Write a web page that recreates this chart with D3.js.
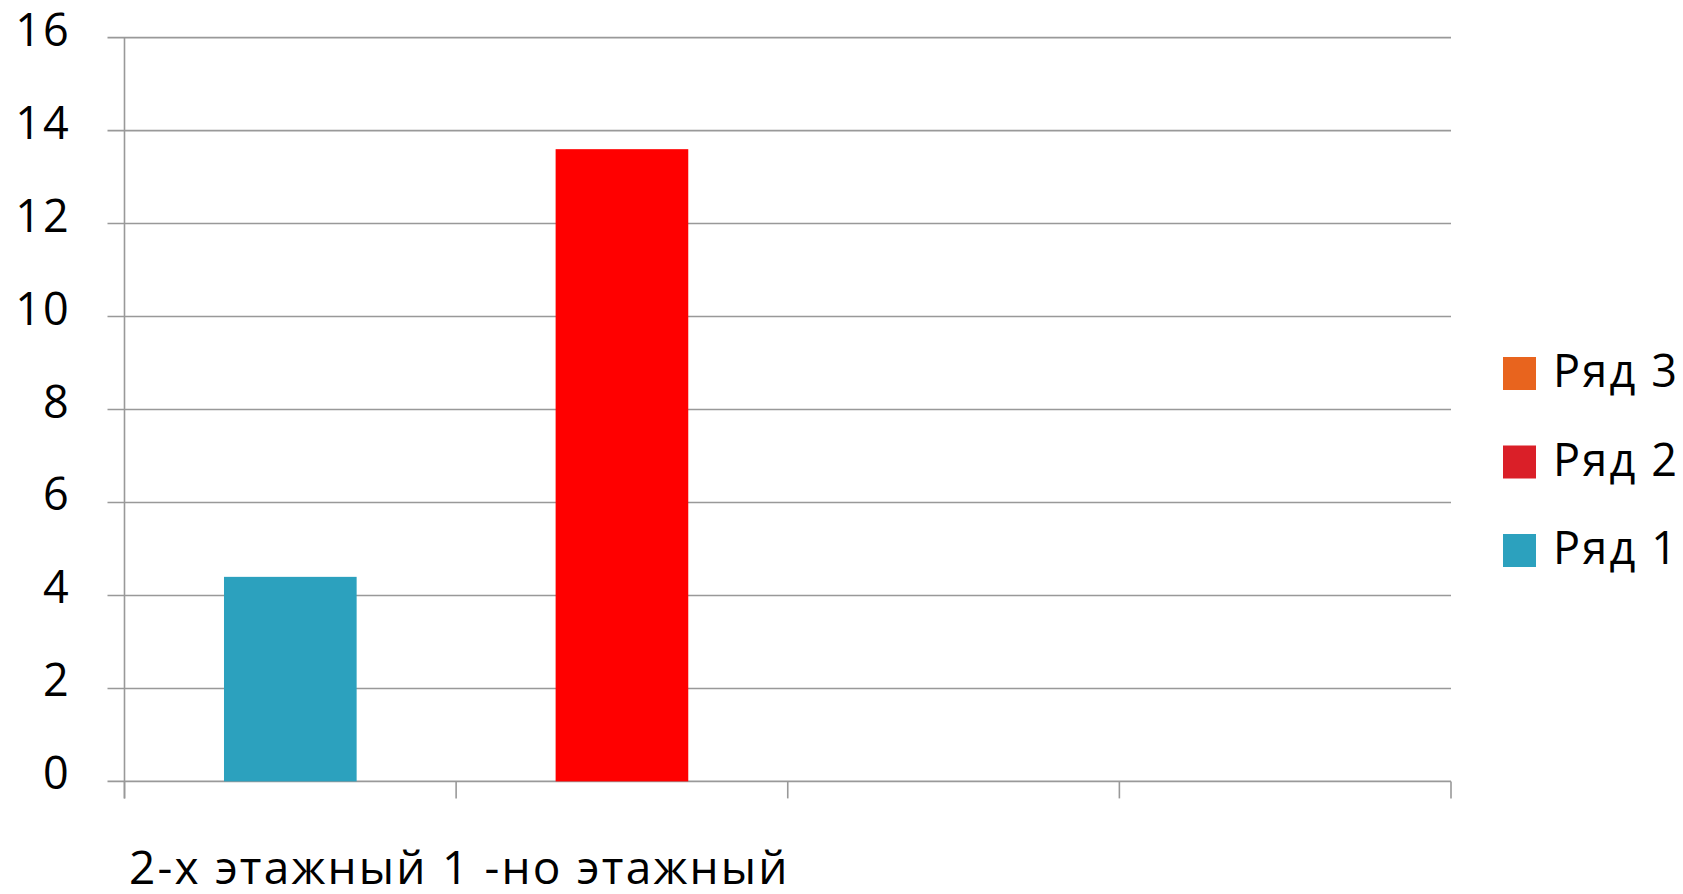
<!DOCTYPE html>
<html>
<head>
<meta charset="utf-8">
<script src="https://cdn.jsdelivr.net/npm/d3@7"></script>
<style>
body { margin: 0; background: #fff; }
text { font-family: "Open Sans", sans-serif; fill: #000; letter-spacing: 2.2px; }
</style>
</head>
<body>
<script>
var categories = ["2-х этажный", "1 -но этажный", "", " "];
var seriesNames = ["Ряд 1", "Ряд 2", "Ряд 3"];
var series1 = [4.4, 0, 0, 0];
var series2 = [0, 13.6, 0, 0];
var series3 = [0, 0, 0, 0];
var yTicks = [0, 2, 4, 6, 8, 10, 12, 14, 16];

var barColors = ["#2ca1be", "#ff0000", "#e8641e"];
var legendColors = ["#2ca1be", "#da1f28", "#e8641e"];

var width = 1683;
var height = 894;
var plotLeft = 124.5, plotRight = 1451, plotTop = 37.6, plotBottom = 781.4;

var svg = d3.select("body").append("svg")
	.attr("width", width)
	.attr("height", height);

var rows = categories.map(function(c, i) {
	return { cat: c, s1: series1[i], s2: series2[i], s3: series3[i] };
});
var stacked = d3.stack().keys(["s1", "s2", "s3"])(rows);

var x = d3.scaleBand()
	.domain(categories)
	.range([plotLeft, plotRight])
	.paddingInner(0.6)
	.paddingOuter(0.3);

var y = d3.scaleLinear()
	.domain([0, 16])
	.range([plotBottom, plotTop]);

// gridlines + y ticks
svg.append("g")
	.selectAll("line")
	.data(yTicks)
	.enter()
	.append("line")
	.attr("x1", plotLeft - 17)
	.attr("x2", plotRight)
	.attr("y1", function(d) { return y(d); })
	.attr("y2", function(d) { return y(d); })
	.attr("stroke", "#999")
	.attr("stroke-width", 1.6);

svg.append("g")
	.selectAll("text")
	.data(yTicks)
	.enter()
	.append("text")
	.text(function(d) { return d; })
	.attr("text-anchor", "end")
	.attr("x", 71)
	.attr("y", function(d) { return y(d) + 8; })
	.attr("font-size", "45px");

// bars
svg.append("g")
	.selectAll("g")
	.data(stacked)
	.enter()
	.append("g")
	.attr("fill", function(d, i) { return barColors[i]; })
	.selectAll("rect")
	.data(function(d) { return d.filter(function(p) { return p[1] - p[0] > 0; }); })
	.enter()
	.append("rect")
	.attr("x", function(d) { return x(d.data.cat); })
	.attr("y", function(d) { return y(d[1]); })
	.attr("width", x.bandwidth())
	.attr("height", function(d) { return y(d[0]) - y(d[1]); });

// axis lines
svg.append("line")
	.attr("x1", plotLeft).attr("x2", plotLeft)
	.attr("y1", plotTop).attr("y2", plotBottom + 17)
	.attr("stroke", "#999").attr("stroke-width", 1.6);

var step = x.step();
var bounds = categories.map(function(c) { return x(c) - step * 0.3; });
bounds.push(plotRight);
bounds[0] = plotLeft;

svg.append("g")
	.selectAll("line")
	.data(bounds)
	.enter()
	.append("line")
	.attr("x1", function(d) { return d; })
	.attr("x2", function(d) { return d; })
	.attr("y1", plotBottom)
	.attr("y2", plotBottom + 17)
	.attr("stroke", "#999")
	.attr("stroke-width", 1.6);

// category label, runs together from the left
svg.append("text")
	.text(categories.filter(function(c) { return c.trim() !== ""; }).join(" "))
	.attr("x", 129)
	.attr("y", 884)
	.attr("font-size", "46px");

// legend
var legendOrder = [2, 1, 0];
var legend = svg.append("g")
	.selectAll("g")
	.data(legendOrder)
	.enter()
	.append("g")
	.attr("transform", function(d, i) { return "translate(1503," + (357 + i * 88.5) + ")"; });

legend.append("rect")
	.attr("width", 33)
	.attr("height", 33)
	.attr("fill", function(d) { return legendColors[d]; });

legend.append("text")
	.text(function(d) { return seriesNames[d]; })
	.attr("x", 50)
	.attr("y", 30)
	.attr("font-size", "45px");
</script>
</body>
</html>
